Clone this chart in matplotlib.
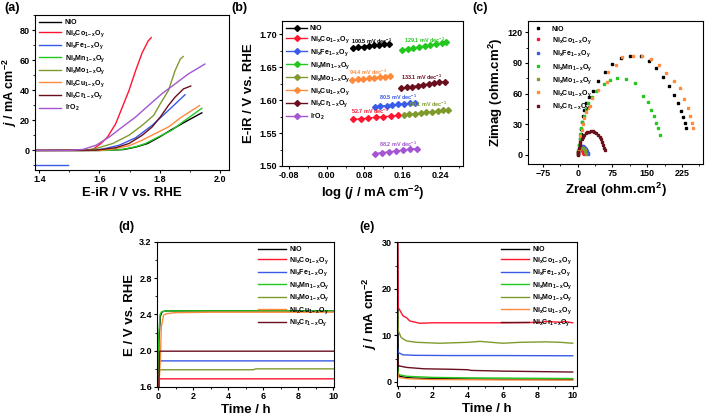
import numpy as np
import matplotlib
matplotlib.use('Agg')
import matplotlib.pyplot as plt
from matplotlib.ticker import MultipleLocator

plt.rcParams['font.family'] = ['Liberation Sans', 'DejaVu Sans']
plt.rcParams['font.weight'] = 'bold'
plt.rcParams['axes.labelweight'] = 'bold'
plt.rcParams['mathtext.fontset'] = 'custom'
plt.rcParams['mathtext.rm'] = 'Liberation Sans:bold'
plt.rcParams['mathtext.bf'] = 'Liberation Sans:bold'
plt.rcParams['mathtext.it'] = 'Liberation Sans:bold:italic'
plt.rcParams['mathtext.default'] = 'rm'
plt.rcParams['axes.linewidth'] = 0.8

# sample names and colours
names = ['NiO', 'Ni$_x$Co$_{1-x}$O$_y$', 'Ni$_x$Fe$_{1-x}$O$_y$', 'Ni$_x$Mn$_{1-x}$O$_y$',
         'Ni$_x$Mo$_{1-x}$O$_y$', 'Ni$_x$Cu$_{1-x}$O$_y$', 'Ni$_x$Cr$_{1-x}$O$_y$', 'IrO$_2$']
colors = ['#000000', '#ff1530', '#3a5ae8', '#22c81e', '#7f9a2c', '#ff8a3c', '#6a0f1e', '#a455d2']

# (a) LSV curves: potential (V) and current density (mA cm-2)
lsv_E = [
    [1.38, 1.60, 1.68, 1.72, 1.76, 1.80, 1.84, 1.884, 1.94],
    [1.38, 1.55, 1.578, 1.605, 1.627, 1.654, 1.676, 1.698, 1.72, 1.742, 1.762, 1.772],
    [1.38, 1.567, 1.611, 1.666, 1.72, 1.775, 1.829, 1.884],
    [1.38, 1.62, 1.676, 1.72, 1.753, 1.796, 1.84, 1.884, 1.94],
    [1.38, 1.546, 1.589, 1.644, 1.698, 1.742, 1.78, 1.802, 1.829, 1.851, 1.868, 1.878],
    [1.38, 1.60, 1.644, 1.698, 1.742, 1.785, 1.829, 1.873, 1.932],
    [1.38, 1.589, 1.654, 1.698, 1.742, 1.775, 1.802, 1.829, 1.851, 1.879, 1.903],
    [1.38, 1.502, 1.546, 1.589, 1.633, 1.676, 1.72, 1.763, 1.807, 1.851, 1.895, 1.950],
]
lsv_j = [
    [0, 0, 0.6, 2.2, 4.6, 9.0, 13.9, 18.9, 25.0],
    [0, 0, 0.7, 4.6, 9.0, 17.8, 28.8, 39.8, 53.0, 65.0, 72.8, 75.0],
    [0, 0, 0.9, 3.5, 8.4, 16.7, 26.6, 37.0],
    [0, 0, 0.7, 2.4, 4.6, 9.0, 13.4, 20.0, 28.0],
    [0, 0, 1.3, 4.6, 10.1, 16.7, 23.3, 31.0, 39.8, 53.0, 60.5, 62.4],
    [0, 0, 0.9, 3.1, 6.8, 11.2, 15.6, 22.2, 29.8],
    [0, 0.2, 1.8, 4.6, 10.1, 15.6, 22.2, 29.9, 35.4, 40.9, 42.8],
    [0, 0, 0.7, 3.5, 9.0, 15.6, 22.2, 29.9, 37.6, 44.2, 50.8, 57.4],
]
stray_E = [1.385, 1.497]
stray_j = [-9.7, -9.7]

# (b) Tafel plots
tafel_x = [
    [0.056, 0.067, 0.078, 0.089, 0.100, 0.111, 0.122, 0.133],
    [0.056, 0.072, 0.088, 0.104, 0.120, 0.136, 0.151],
    [0.102, 0.114, 0.127, 0.139, 0.151, 0.163, 0.176, 0.188],
    [0.160, 0.172, 0.184, 0.196, 0.208, 0.220, 0.232, 0.244, 0.253],
    [0.163, 0.175, 0.187, 0.199, 0.211, 0.223, 0.235, 0.247, 0.258],
    [0.054, 0.066, 0.077, 0.089, 0.100, 0.112, 0.123, 0.135],
    [0.158, 0.170, 0.181, 0.193, 0.204, 0.216, 0.227, 0.239, 0.250],
    [0.102, 0.117, 0.132, 0.147, 0.161, 0.176, 0.191],
]
tafel_y = [
    [1.6790, 1.6800, 1.6810, 1.6820, 1.6830, 1.6840, 1.6848, 1.6856],
    [1.5706, 1.5716, 1.5726, 1.5737, 1.5747, 1.5757, 1.5767],
    [1.5898, 1.5907, 1.5916, 1.5925, 1.5934, 1.5942, 1.5950, 1.5959],
    [1.6760, 1.6775, 1.6790, 1.6805, 1.6820, 1.6835, 1.6850, 1.6865, 1.6878],
    [1.5772, 1.5782, 1.5792, 1.5802, 1.5812, 1.5822, 1.5832, 1.5842, 1.5848],
    [1.6304, 1.6313, 1.6322, 1.6331, 1.6340, 1.6348, 1.6357, 1.6365],
    [1.6178, 1.6191, 1.6204, 1.6217, 1.6230, 1.6243, 1.6256, 1.6269, 1.6279],
    [1.5189, 1.5202, 1.5214, 1.5227, 1.5240, 1.5252, 1.5265],
]
slopes = ['100.5', '52.7', '80.5', '129.1', '86.1', '94.4', '133.1', '88.2']
slope_x = [0.0946, 0.0925, 0.151, 0.2075, 0.2145, 0.0867, 0.2005, 0.151]
slope_y = [1.6885, 1.5830, 1.6045, 1.6905, 1.5935, 1.6415, 1.6350, 1.5335]

# (c) Nyquist plots (ohm.cm2)
nyq_re = [
    [0.5, 2, 3.5, 5, 6.5, 8, 9.3, 11.4, 14.3, 17.9, 24, 33.6, 44.3, 58.6, 74.3, 92.9, 112.1,
     135.7, 153.6, 169.3, 184.3, 196.4, 207.1, 217, 222.8, 227.8, 231.4, 234.2],
    [0.5, 1.5, 3, 4.5, 6, 7.5, 9, 10.5, 11.5, 12.5, 13],
    [0.5, 1.5, 3, 5, 7, 9, 11, 13, 15, 17, 19, 20.5, 22, 23],
    [0.3, 1.5, 3, 4.5, 6, 8, 10, 13, 17, 22, 30, 39, 57.1, 70, 85.7, 103.6, 122.9, 140.7,
     151.3, 158.5, 164.2, 169.3, 172.7, 176.4],
    [0.5, 1.5, 3, 5, 7, 9, 11, 13, 15, 16.5, 17.5],
    [0.5, 2, 4, 6, 8.5, 11, 14, 18, 22, 27, 30, 44.4, 62.8, 66.4, 82, 96.4, 120, 139.3,
     158.6, 175, 191.4, 207, 220, 230, 238.5, 242.1, 245.6, 247.7],
    [0, 1, 2.5, 4, 6, 8.5, 11, 14, 17, 20, 24, 28, 32, 36, 40, 44, 47.5, 50.5, 53, 55, 57, 58.5],
]
nyq_im = [
    [1, 5, 10, 15, 20, 25, 32, 37.5, 44, 50.5, 57, 62.6, 72.4, 81.5, 89.3, 95.2, 97.2,
     96.5, 92.3, 85.4, 76.3, 67.5, 58.7, 50.6, 42.4, 36.9, 31, 26.1],
    [1.5, 3, 4.3, 5, 5.2, 5, 4.4, 3.5, 2.5, 1.3, 0.3],
    [1, 3, 5, 6.8, 7.8, 8.2, 8.2, 7.8, 7, 6, 4.8, 3.5, 2.2, 1],
    [1, 5, 10, 15, 20, 26, 32, 38, 45, 51, 57, 62.6, 69.1, 73.4, 75, 74, 70.1, 58,
     51.2, 44, 37.5, 31.6, 26.1, 19.6],
    [1.5, 3.5, 5, 6.2, 6.7, 6.8, 6.4, 5.5, 4.2, 2.8, 1.2],
    [1, 6, 12, 18, 24, 30, 36, 42, 46, 48, 55.4, 63.6, 71.7, 80.9, 88, 95.6, 96.9, 96.5,
     94.2, 88, 80.5, 72.4, 65.2, 55, 45.7, 38.2, 31.6, 26.7],
    [0, 3, 6.5, 9.5, 12.5, 15.5, 17.8, 19.8, 21.2, 22.2, 22.8, 23, 22.9, 22.4, 21.3, 19.6,
     17.6, 15.2, 12.6, 10, 7, 4.2],
]

# (d) chronopotentiometry: time (h), potential (V)
cp_t = [
    [0, 0.05, 0.13, 0.23, 0.5, 2, 4, 6, 8, 10],
    [0.05, 0.08, 0.2, 2, 5, 10],
    [0.05, 0.08, 0.2, 2, 5, 10],
    [0, 0.05, 0.12, 0.2, 0.5, 2, 4, 6, 8, 10],
    [0.05, 0.08, 0.2, 2, 5.4, 5.6, 8, 10],
    [0.05, 0.13, 0.19, 0.32, 0.51, 1, 3, 6, 10],
    [0.05, 0.08, 0.2, 2, 5, 10],
]
cp_E = [
    [1.6, 2.1, 2.38, 2.43, 2.44, 2.44, 2.44, 2.44, 2.44, 2.44],
    [1.6, 1.69, 1.69, 1.69, 1.69, 1.69],
    [1.6, 1.888, 1.888, 1.888, 1.888, 1.888],
    [1.6, 2.2, 2.40, 2.43, 2.44, 2.44, 2.44, 2.44, 2.44, 2.44],
    [1.6, 1.785, 1.79, 1.79, 1.79, 1.80, 1.80, 1.80],
    [1.6, 1.9, 2.265, 2.394, 2.41, 2.42, 2.425, 2.425, 2.425],
    [1.6, 1.995, 1.995, 1.995, 1.995, 1.995],
]

# (e) chronoamperometry: time (h), current density (mA cm-2)
ca_t = [
    [0, 0.03, 0.1, 0.5, 1, 2, 4, 6, 8, 10],
    [0, 0.03, 0.3, 0.5, 0.69, 1.26, 2, 4, 6, 8.3, 8.4, 9.4, 9.5, 10],
    [0, 0.03, 0.3, 1, 3, 6, 10],
    [0, 0.03, 0.1, 0.5, 1, 2, 4, 6, 8, 10],
    [0, 0.03, 0.2, 0.5, 1.07, 2.4, 4, 4.7, 6, 7, 8.5, 9.3, 10],
    [0, 0.03, 0.1, 0.5, 1, 2, 4, 6, 8, 10],
    [0, 0.03, 0.1, 0.5, 1.5, 3, 4, 4.2, 6, 8, 10],
]
ca_j = [
    [30, 1.8, 1.2, 0.9, 0.8, 0.7, 0.6, 0.55, 0.5, 0.5],
    [30, 16, 14.2, 13.8, 13.1, 12.6, 12.7, 12.7, 12.7, 12.8, 13.0, 12.8, 13.0, 12.7],
    [7, 6.3, 5.8, 5.7, 5.65, 5.65, 5.6],
    [3, 1.7, 1.5, 1.2, 1.1, 0.95, 0.85, 0.8, 0.75, 0.7],
    [15, 11, 9.5, 8.8, 8.5, 8.3, 8.5, 8.7, 8.3, 8.5, 8.6, 8.5, 8.3],
    [2, 1.1, 0.9, 0.7, 0.6, 0.5, 0.45, 0.4, 0.4, 0.35],
    [5, 3.6, 3.4, 3.1, 2.8, 2.7, 2.6, 2.45, 2.3, 2.2, 2.1],
]


def style(ax):
    ax.tick_params(which='major', direction='out', length=2.5, width=0.8, labelsize=6.5, pad=1.2)
    ax.tick_params(which='minor', direction='out', length=1.4, width=0.6)
    for lab in ax.get_xticklabels() + ax.get_yticklabels():
        lab.set_fontweight('bold')


fig = plt.figure(figsize=(7.09, 4.18), dpi=100)
ax_a = fig.add_axes([0.0494, 0.5933, 0.2735, 0.3708])
ax_b = fig.add_axes([0.3977, 0.6029, 0.2553, 0.3469])
ax_c = fig.add_axes([0.7447, 0.6077, 0.2468, 0.3421])
ax_d = fig.add_axes([0.2214, 0.0742, 0.2496, 0.3469])
ax_e = fig.add_axes([0.5600, 0.0766, 0.2539, 0.3445])

# (a)
for i in range(8):
    ax_a.plot(lsv_E[i], lsv_j[i], color=colors[i], lw=1.0, label=names[i])
ax_a.plot(stray_E, stray_j, color=colors[2], lw=1.0)
ax_a.set_xlim(1.386, 2.03)
ax_a.set_ylim(-13, 90)
ax_a.xaxis.set_major_locator(MultipleLocator(0.2))
ax_a.xaxis.set_minor_locator(MultipleLocator(0.1))
ax_a.yaxis.set_major_locator(MultipleLocator(20))
ax_a.yaxis.set_minor_locator(MultipleLocator(10))
ax_a.set_xlabel('E-iR / V vs. RHE', fontsize=9.5, labelpad=2)
ax_a.set_ylabel('$\\mathit{j}$ / mA cm$^{-2}$', fontsize=9)
ax_a.yaxis.set_label_coords(-0.085, 0.5)
ax_a.legend(loc='upper left', fontsize=5, frameon=False, handlelength=3.2,
            labelspacing=0.25, borderaxespad=0.2, handletextpad=0.5)
style(ax_a)

# (b)
for i in range(8):
    ax_b.plot(tafel_x[i], tafel_y[i], color=colors[i], lw=1.0, marker='D', ms=3,
              label=names[i])
    ax_b.text(slope_x[i], slope_y[i], slopes[i] + ' mV dec$^{-1}$', color=colors[i],
              fontsize=4.0, ha='center', va='center')
ax_b.set_xlim(-0.095, 0.289)
ax_b.set_ylim(1.50, 1.72)
ax_b.xaxis.set_minor_locator(MultipleLocator(0.04))
ax_b.yaxis.set_minor_locator(MultipleLocator(0.025))
ax_b.set_xticks([-0.08, 0.0, 0.08, 0.16, 0.24])
ax_b.set_xticklabels(['-0.08', '0.00', '0.08', '0.16', '0.24'])
ax_b.set_yticks([1.50, 1.55, 1.60, 1.65, 1.70])
ax_b.set_yticklabels(['1.50', '1.55', '1.60', '1.65', '1.70'])
ax_b.set_xlabel('log ($\\mathit{j}$ / mA cm$^{-2}$)', fontsize=9.5, labelpad=3)
ax_b.set_ylabel('E-iR / V vs. RHE', fontsize=9.5, labelpad=3)
ax_b.legend(loc='upper left', fontsize=5, frameon=False, handlelength=3.0,
            labelspacing=0.3, borderaxespad=0.2, handletextpad=0.4)
style(ax_b)

# (c)
for i in range(7):
    ax_c.plot(nyq_re[i], nyq_im[i], ls='none', marker='s', ms=1.8, color=colors[i],
              label=names[i])
ax_c.set_xlim(-107, 270)
ax_c.set_ylim(-9, 131)
ax_c.xaxis.set_major_locator(MultipleLocator(75))
ax_c.xaxis.set_minor_locator(MultipleLocator(37.5))
ax_c.yaxis.set_major_locator(MultipleLocator(30))
ax_c.yaxis.set_minor_locator(MultipleLocator(15))
ax_c.set_xlabel('Zreal (ohm.cm$^{2}$)', fontsize=9.5, labelpad=2)
ax_c.set_ylabel('Zimag (ohm.cm$^{2}$)', fontsize=9.5, labelpad=2)
ax_c.legend(loc='upper left', fontsize=5, frameon=False, handlelength=1.5,
            labelspacing=0.35, borderaxespad=0.3, handletextpad=1.2, markerscale=1.0)
style(ax_c)

# (d)
for i in range(7):
    ax_d.plot(cp_t[i], cp_E[i], color=colors[i], lw=1.0, label=names[i])
ax_d.set_xlim(-0.06, 10.03)
ax_d.set_ylim(1.6, 3.2)
ax_d.xaxis.set_major_locator(MultipleLocator(2))
ax_d.xaxis.set_minor_locator(MultipleLocator(1))
ax_d.yaxis.set_major_locator(MultipleLocator(0.4))
ax_d.yaxis.set_minor_locator(MultipleLocator(0.2))
ax_d.set_xlabel('Time / h', fontsize=9.5, labelpad=2)
ax_d.set_ylabel('E / V vs. RHE', fontsize=9.5, labelpad=2)
ax_d.legend(loc='upper right', fontsize=5, frameon=False, handlelength=4.0,
            labelspacing=0.25, borderaxespad=0.2, handletextpad=0.5)
style(ax_d)

# (e)
for i in range(7):
    ax_e.plot(ca_t[i], ca_j[i], color=colors[i], lw=1.0, label=names[i])
ax_e.set_xlim(-0.04, 10.25)
ax_e.set_ylim(-0.9, 30.1)
ax_e.xaxis.set_major_locator(MultipleLocator(2))
ax_e.xaxis.set_minor_locator(MultipleLocator(1))
ax_e.yaxis.set_major_locator(MultipleLocator(10))
ax_e.yaxis.set_minor_locator(MultipleLocator(5))
ax_e.set_xlabel('Time / h', fontsize=9.5, labelpad=2)
ax_e.set_ylabel('$\\mathit{j}$ / mA cm$^{-2}$', fontsize=9.5, labelpad=2)
ax_e.legend(loc='upper right', fontsize=5, frameon=False, handlelength=4.0,
            labelspacing=0.25, borderaxespad=0.2, handletextpad=0.5)
style(ax_e)

# panel letters
for lab, (px, py) in zip(['(a)', '(b)', '(c)', '(d)', '(e)'],
                         [(4, 2), (231, 2), (472, 2), (118, 221), (359, 221)]):
    fig.text(px / 709, 1 - py / 418, lab, fontsize=9, fontweight='bold', va='top', ha='left')

fig.savefig('out.png', dpi=100)
